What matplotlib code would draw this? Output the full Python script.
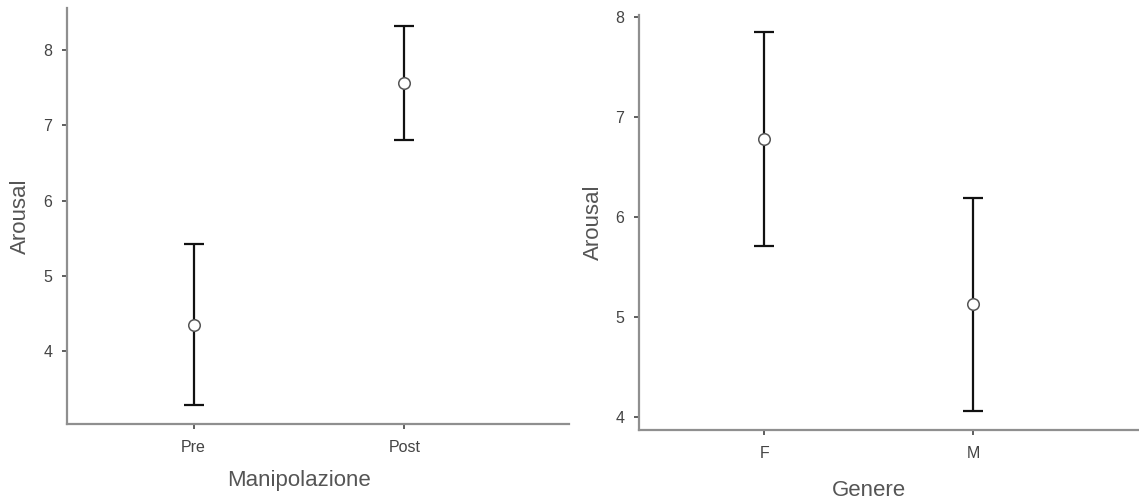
import matplotlib
matplotlib.use("Agg")
import matplotlib.pyplot as plt

plt.rcParams['font.family'] = ['Liberation Sans', 'DejaVu Sans']

# Manipolazione: mean arousal with confidence bounds
manip_categories = ["Pre", "Post"]
manip_mean = [4.35, 7.56]
manip_lower = [3.28, 6.80]
manip_upper = [5.42, 8.32]

# Genere: mean arousal with confidence bounds
gender_categories = ["F", "M"]
gender_mean = [6.78, 5.13]
gender_lower = [5.71, 4.06]
gender_upper = [7.85, 6.19]

W, H = 1139, 503
fig = plt.figure(figsize=(W / 100, H / 100), dpi=100)

spine_col = "#8f8f8f"
text_col = "#444444"
label_col = "#555555"


def panel(rect, cats, mean, lo, hi, xlabel, ylim, yticks, ylabelpad, xlabelpad, xlim):
    ax = fig.add_axes(rect)
    x = list(range(len(cats)))
    err = [[m - l for m, l in zip(mean, lo)], [h - m for m, h in zip(mean, hi)]]
    ax.errorbar(x, mean, yerr=err, fmt="none", ecolor="#111111",
                elinewidth=1.6, capsize=7.5, capthick=1.6, zorder=2)
    ax.plot(x, mean, "o", markersize=8.3, markerfacecolor="white",
            markeredgecolor="#555555", markeredgewidth=1.1, zorder=3)
    ax.set_xticks(x)
    ax.set_xticklabels(cats)
    ax.set_yticks(yticks)
    ax.set_xlim(*xlim)
    ax.set_ylim(*ylim)
    for s in ("top", "right"):
        ax.spines[s].set_visible(False)
    for s in ("left", "bottom"):
        ax.spines[s].set_color(spine_col)
        ax.spines[s].set_linewidth(1.6)
    ax.tick_params(axis="both", length=3.5, width=1.1, color="#333333",
                   labelsize=11.5, labelcolor=text_col)
    ax.tick_params(axis="y", pad=7)
    ax.tick_params(axis="x", pad=8)
    ax.set_ylabel("Arousal", fontsize=16, color=label_col, labelpad=ylabelpad)
    ax.set_xlabel(xlabel, fontsize=16, color=label_col, labelpad=xlabelpad)
    # centre the axis title under the category span (-0.6 .. n-0.4)
    mid = (len(cats) - 1) / 2
    ax.xaxis.label.set_x((mid - xlim[0]) / (xlim[1] - xlim[0]))
    return ax


panel([67 / W, 1 - 424 / H, (569 - 67) / W, (424 - 8) / H],
      manip_categories, manip_mean, manip_lower, manip_upper,
      "Manipolazione", (3.03, 8.56), [4, 5, 6, 7, 8], 9, 11, (-0.6, 1.78))

panel([639 / W, 1 - 430 / H, (1139 - 639) / W, (430 - 15) / H],
      gender_categories, gender_mean, gender_lower, gender_upper,
      "Genere", (3.87, 8.02), [4, 5, 6, 7, 8], 8, 14, (-0.6, 1.795))

fig.savefig("out.png", dpi=100, facecolor="white")
